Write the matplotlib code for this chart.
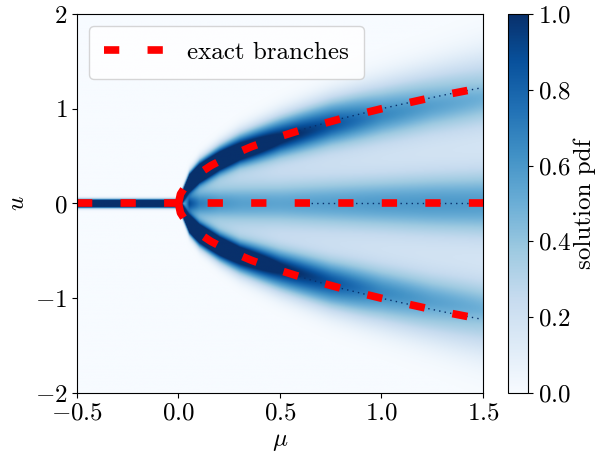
import numpy as np
import matplotlib
matplotlib.use('Agg')
import matplotlib.pyplot as plt
import matplotlib as mpl

mpl.rcParams['font.family'] = 'serif'
mpl.rcParams['font.serif'] = ['cmr10']
mpl.rcParams['mathtext.fontset'] = 'cm'
mpl.rcParams['axes.formatter.use_mathtext'] = True
mpl.rcParams['font.size'] = 18.0

# exact branches
mu_zero = [-0.5, 1.5]
u_zero = [0.0, 0.0]
u_upper = [0.0, 0.1, 0.2, 0.3, 0.4, 0.5, 0.6, 0.7, 0.8, 0.9, 1.0, 1.1, 1.15, 1.22]
mu_upper = [0.0, 0.01, 0.04, 0.09, 0.16, 0.25, 0.36, 0.49, 0.64, 0.81, 1.0, 1.21, 1.32, 1.49]
u_lower = [0.0, -0.1, -0.2, -0.3, -0.4, -0.5, -0.6, -0.7, -0.8, -0.9, -1.0, -1.1, -1.15, -1.22]
mu_lower = [0.0, 0.01, 0.04, 0.09, 0.16, 0.25, 0.36, 0.49, 0.64, 0.81, 1.0, 1.21, 1.32, 1.49]

# solution pdf profile, estimated at a few mu columns
mu_knots = [0.0, 0.05, 0.1, 0.2, 0.3, 0.5, 0.75, 1.0, 1.25, 1.5]
peak_u = [0.0, 0.22, 0.32, 0.45, 0.55, 0.7, 0.86, 0.98, 1.09, 1.18]
peak_amp = [3.0, 2.4, 1.9, 1.5, 1.25, 0.95, 0.75, 0.55, 0.45, 0.38]
sig_in = [0.03, 0.06, 0.07, 0.08, 0.09, 0.12, 0.15, 0.18, 0.2, 0.22]
sig_out = [0.03, 0.06, 0.08, 0.1, 0.12, 0.15, 0.18, 0.21, 0.24, 0.28]
mid_amp = [0.0, 0.45, 0.35, 0.3, 0.3, 0.32, 0.36, 0.4, 0.42, 0.42]
mid_sig = [0.03, 0.06, 0.08, 0.1, 0.12, 0.14, 0.16, 0.18, 0.2, 0.22]
plateau = [0.0, 0.45, 0.35, 0.3, 0.26, 0.22, 0.2, 0.18, 0.17, 0.16]
# mu < 0: single narrow peak at u = 0
neg_amp = 3.0
neg_sig = 0.025

mu_grid = np.linspace(-0.5, 1.5, 401)
u_grid = np.linspace(-2.0, 2.0, 801)
pdf = np.zeros((len(u_grid), len(mu_grid)))
for j, m in enumerate(mu_grid):
    if m < 0:
        pdf[:, j] = neg_amp * np.exp(-0.5 * (u_grid / neg_sig) ** 2)
        continue
    pu = np.interp(m, mu_knots, peak_u)
    pa = np.interp(m, mu_knots, peak_amp)
    si = np.interp(m, mu_knots, sig_in)
    so = np.interp(m, mu_knots, sig_out)
    d = np.abs(u_grid) - pu
    s = np.where(d < 0, si, so)
    col = pa * np.exp(-0.5 * (d / s) ** 2)
    col += np.interp(m, mu_knots, mid_amp) * np.exp(-0.5 * (u_grid / np.interp(m, mu_knots, mid_sig)) ** 2)
    col += np.interp(m, mu_knots, plateau) / (1 + np.exp(d / 0.05))
    pdf[:, j] = col

fig = plt.figure(figsize=(5.99, 4.59), dpi=100)
ax = fig.add_axes([0.1285, 0.1438, 0.6778, 0.8257])
cax = fig.add_axes([0.848, 0.1438, 0.0334, 0.8257])

im = ax.imshow(pdf, extent=[-0.5, 1.5, -2, 2], origin='lower', aspect='auto',
               cmap='Blues', vmin=0, vmax=1)

# thin sample trace along the branches
dots = (0, (1, 3))
ax.plot(mu_upper[6:], u_upper[6:], color='#08306b', lw=1.0, linestyle=dots)
ax.plot(mu_lower[6:], u_lower[6:], color='#08306b', lw=1.0, linestyle=dots)
ax.plot([0.6, 1.5], [0, 0], color='#08306b', lw=1.0, linestyle=dots)

lw = 5.5
dash = (2.0, 3.7)
ax.plot(mu_zero, u_zero, color='red', lw=lw, linestyle=(0, dash), label='exact branches')
ax.plot(mu_upper, u_upper, color='red', lw=lw, linestyle=(0, dash))
ax.plot(mu_lower, u_lower, color='red', lw=lw, linestyle=(0, dash))

ax.set_xlim(-0.5, 1.5)
ax.set_ylim(-2, 2)
ax.set_xticks([-0.5, 0.0, 0.5, 1.0, 1.5])
ax.set_yticks([-2, -1, 0, 1, 2])
ax.set_xlabel(r'$\mu$')
ax.set_ylabel(r'$u$')
ax.legend(loc='upper left', handlelength=2.5, borderpad=0.6, handletextpad=0.8)

cb = fig.colorbar(im, cax=cax)
cb.set_ticks([0.0, 0.2, 0.4, 0.6, 0.8, 1.0])
cb.set_label('solution pdf', labelpad=2)

fig.savefig('out.png', dpi=100)
